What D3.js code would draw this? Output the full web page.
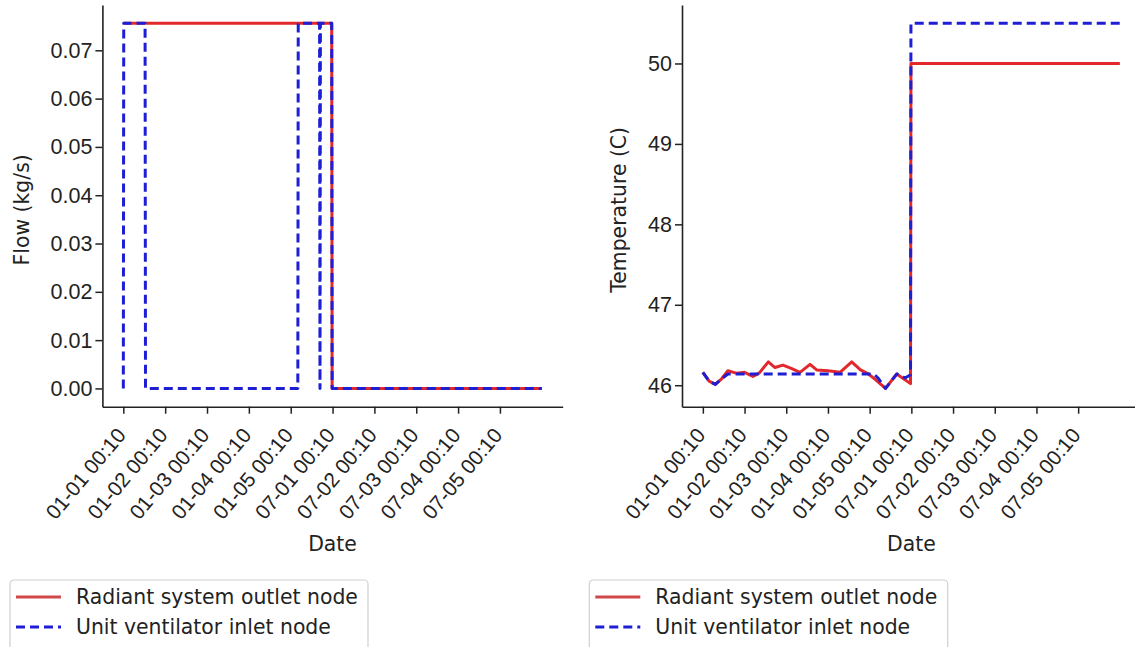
<!DOCTYPE html>
<html>
<head>
<meta charset="utf-8">
<script src="https://cdn.jsdelivr.net/npm/d3@7"></script>
<style>
  html, body { margin: 0; padding: 0; background: #fff; }
  svg { display: block; font-family: "DejaVu Sans", sans-serif; }
  .tick text { fill: #222; }
</style>
</head>
<body>
<svg id="fig" width="1135" height="647"></svg>
<script>
/* Two panels: mass flow and temperature at the radiant outlet / unit ventilator inlet,
   five January days followed by five July days (x in days from the first tick). */
const TICK_LABELS = ["01-01 00:10", "01-02 00:10", "01-03 00:10", "01-04 00:10", "01-05 00:10",
  "07-01 00:10", "07-02 00:10", "07-03 00:10", "07-04 00:10", "07-05 00:10"];
const SERIES_NAMES = ["Radiant system outlet node", "Unit ventilator inlet node"];

// [day, kg/s]
const FLOW_RADIANT = [[0, 0.0756], [4.98, 0.0756], [4.99, 0], [10, 0]];
const FLOW_VENT = [[0, 0], [0.01, 0.0756], [0.52, 0.0756], [0.53, 0], [4.17, 0], [4.18, 0.0756],
  [4.69, 0.0756], [4.70, 0], [4.71, 0.0756], [4.98, 0.0756], [4.99, 0], [10, 0]];

// [day, degC]
const TEMP_RADIANT = [[0, 46.16], [0.15, 46.05], [0.3, 46.01], [0.45, 46.08], [0.6, 46.18], [0.8, 46.15],
  [1.0, 46.16], [1.2, 46.11], [1.35, 46.15], [1.57, 46.29], [1.73, 46.22], [1.92, 46.25], [2.12, 46.21],
  [2.33, 46.16], [2.57, 46.26], [2.73, 46.19], [3.0, 46.18], [3.29, 46.16], [3.57, 46.29], [3.78, 46.19],
  [3.97, 46.14], [4.14, 46.07], [4.38, 45.96], [4.65, 46.14], [4.98, 46.02], [4.99, 50.0], [10, 50.0]];
const TEMP_VENT = [[0, 46.16], [0.15, 46.05], [0.3, 46.01], [0.45, 46.08], [0.6, 46.14], [4.1, 46.14],
  [4.2, 46.09], [4.38, 45.96], [4.65, 46.14], [4.85, 46.09], [4.98, 46.13], [4.99, 50.5], [10, 50.5]];

const FLOW_TICKS = [0, 0.01, 0.02, 0.03, 0.04, 0.05, 0.06, 0.07];
const TEMP_TICKS = [46, 47, 48, 49, 50];

const RED = "#e2282d", BLUE = "#1e1ed4", INK = "#222";
const FS = 20.4, FS_XTICK = 20.8, FS_YTICK = 21.5;

const svg = d3.select("#fig");

function panel(o) {
  const { left, right, top, bottom } = o;
  const x = d3.scaleLinear().domain([-0.5, TICK_LABELS.length + 0.5]).range([left, right]);
  // matplotlib-style 5% margins on the y data range
  const all = o.series.flatMap(s => s.data.map(d => d[1]));
  const [lo, hi] = d3.extent(all), pad = (hi - lo) * 0.05;
  const y = d3.scaleLinear().domain([lo - pad, hi + pad]).range([bottom, top]);

  const g = svg.append("g");
  const line = d3.line().x(d => x(d[0])).y(d => y(d[1]));

  o.series.forEach(s => {
    g.append("path").datum(s.data).attr("d", line)
      .attr("fill", "none").attr("stroke", s.color).attr("stroke-width", 3)
      .attr("stroke-dasharray", s.dash || null).attr("stroke-linejoin", "round");
  });

  // axes
  const gx = g.append("g").attr("transform", `translate(0,${bottom})`)
    .call(d3.axisBottom(x).tickValues(d3.range(TICK_LABELS.length)).tickSize(7).tickSizeOuter(0).tickFormat(""));
  gx.select(".domain").attr("stroke", INK).attr("stroke-width", 1.6);
  gx.selectAll(".tick line").attr("stroke", INK).attr("stroke-width", 1.5);
  gx.selectAll(".tick").append("text")
    .attr("text-anchor", "end").attr("font-size", FS_XTICK).attr("fill", INK)
    .attr("transform", "translate(3,29) rotate(-50)")
    .text((d, i) => TICK_LABELS[i]);

  const gy = g.append("g").attr("transform", `translate(${left},0)`)
    .call(d3.axisLeft(y).tickValues(o.yTicks).tickSize(7).tickSizeOuter(0).tickPadding(3).tickFormat(o.yFormat));
  gy.select(".domain").attr("stroke", INK).attr("stroke-width", 1.6);
  gy.selectAll(".tick line").attr("stroke", INK).attr("stroke-width", 1.5);
  gy.selectAll(".tick text").attr("font-size", FS_YTICK).attr("fill", INK);

  g.append("text").attr("x", (left + right) / 2).attr("y", 551)
    .attr("text-anchor", "middle").attr("font-size", FS).attr("fill", INK).text("Date");
  g.append("text").attr("transform", `translate(${o.yLabelX},${(top + bottom) / 2 + 4}) rotate(-90)`)
    .attr("text-anchor", "middle").attr("dy", "0.35em").attr("font-size", FS).attr("fill", INK).text(o.yLabel);

  // legend below the axes, cut by the bottom edge of the figure
  const lg = svg.append("g").attr("transform", `translate(${o.legendX},580)`);
  lg.append("rect").attr("x", 0).attr("y", 0).attr("width", o.legendW).attr("height", 90).attr("rx", 4)
    .attr("fill", "#fff").attr("stroke", "#d0d0d0").attr("stroke-width", 1.2);
  o.series.forEach((s, i) => {
    const cy = 17 + i * 30;
    lg.append("line").attr("x1", 6).attr("x2", 51).attr("y1", cy).attr("y2", cy)
      .attr("stroke", s.legendColor || s.color).attr("stroke-width", 3).attr("stroke-dasharray", s.dash || null);
    lg.append("text").attr("x", 66).attr("y", cy).attr("dy", "0.35em")
      .attr("font-size", FS).attr("fill", INK).text(SERIES_NAMES[i]);
  });
}

panel({
  left: 102.4, right: 562.7, top: 5, bottom: 406.7,
  series: [
    { data: FLOW_RADIANT, color: RED, legendColor: "#d04848" },
    { data: FLOW_VENT, color: BLUE, dash: "9,5" },
  ],
  yTicks: FLOW_TICKS, yFormat: d3.format(".2f"),
  yLabel: "Flow (kg/s)", yLabelX: 22,
  legendX: 10, legendW: 358,
});

panel({
  left: 682, right: 1140.7, top: 5, bottom: 406.7,
  series: [
    { data: TEMP_RADIANT, color: RED, legendColor: "#d04848" },
    { data: TEMP_VENT, color: BLUE, dash: "9,5" },
  ],
  yTicks: TEMP_TICKS, yFormat: d3.format("d"),
  yLabel: "Temperature (C)", yLabelX: 619,
  legendX: 589.3, legendW: 358.4,
});
</script>
</body>
</html>
